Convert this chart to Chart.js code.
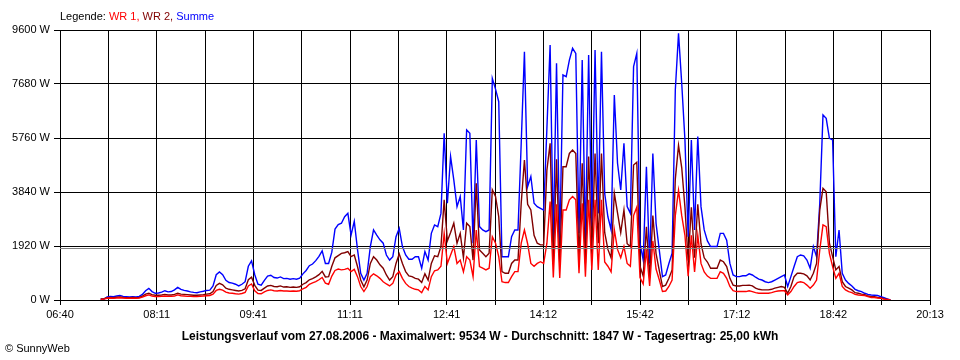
<!DOCTYPE html>
<html>
<head>
<meta charset="utf-8">
<script src="https://cdn.jsdelivr.net/npm/chart.js@4.4.1/dist/chart.umd.min.js"></script>
<style>
  body { margin: 0; background: #fff; }
  #wrap { position: relative; width: 960px; height: 360px; font-family: 'Liberation Sans', Arial, sans-serif; font-size: 11px; color: #000; }
  #legend { position: absolute; left: 60px; top: 10px; white-space: nowrap; }
  #title { position: absolute; left: 0; width: 960px; top: 329px; text-align: center; font-weight: bold; font-size: 12px; white-space: nowrap; }
  #copy { position: absolute; left: 5px; top: 342px; white-space: nowrap; }
</style>
</head>
<body>
<div id="wrap">
  <canvas id="chart" width="960" height="360"></canvas>
  <div id="legend">Legende: <span style="color:#ff0000">WR 1,</span> <span style="color:#800000">WR 2,</span> <span style="color:#0000ff">Summe</span></div>
  <div id="title">Leistungsverlauf vom 27.08.2006 - Maximalwert: 9534 W - Durchschnitt: 1847 W - Tagesertrag: 25,00 kWh</div>
  <div id="copy">&copy; SunnyWeb</div>
</div>
<script>
// x axis: minutes since midnight, labels every second grid line
const timeLabels = ['06:40', '08:11', '09:41', '11:11', '12:41', '14:12', '15:42', '17:12', '18:42', '20:13'];
const axisStart = 400;   // 06:40
const axisEnd = 1213;    // 20:13
const yTicks = [0, 1920, 3840, 5760, 7680, 9600];
const durchschnitt = 1847;

// samples every 3 minutes starting 07:18
const firstSample = 438;
const sampleStep = 3;

// WR 1 (W)
const wr1 = [
  20, 30, 60, 70, 60, 70, 80, 70, 60, 60, 60, 60, 70, 100, 150, 180, 140, 120, 120, 130,
  140, 130, 130, 140, 180, 150, 140, 130, 130, 120, 120, 130, 140, 150, 160, 210, 340, 380, 350, 280,
  250, 240, 220, 210, 230, 270, 500, 570, 330, 230, 220, 290, 340, 360, 330, 320, 340, 320, 320, 310,
  320, 310, 330, 400, 450, 560, 610, 650, 720, 800, 600, 560, 850, 1050, 1100, 1070, 1090, 1130, 1010, 1090,
  830, 480, 300, 480, 830, 930, 860, 770, 650, 570, 500, 590, 890, 1010, 770, 590, 480, 420, 380, 360,
  260, 480, 360, 830, 1040, 1070, 1200, 2370, 1300, 1600, 1900, 1300, 1420, 1000, 1540, 1420, 830, 2490, 1190, 1130,
  1070, 1130, 2250, 2020, 1540, 650, 620, 620, 830, 1010, 1010, 2020, 2490, 2000, 1300, 1200, 1300, 1360, 1300, 2020,
  3500, 800, 3400, 780, 3200, 3200, 3560, 3680, 3560, 950, 3440, 830, 3560, 1070, 3560, 1070, 3560, 1350, 1200, 1000,
  2500, 1800, 1500, 1900, 1300, 1200, 3000, 3300, 800, 570, 1800, 500, 2100, 1100, 720, 300, 320, 480, 710, 3000,
  3900, 3000, 2300, 850, 2300, 1000, 2300, 1300, 1000, 850, 770, 770, 770, 1010, 950, 770, 480, 330, 300, 300,
  300, 300, 330, 300, 260, 240, 240, 240, 240, 260, 300, 320, 330, 330, 180, 300, 480, 620, 650, 620,
  530, 420, 530, 710, 1780, 2670, 2610, 1660, 1190, 770, 950, 480, 360, 300, 260, 200, 180, 170, 160, 120,
  90, 90, 70, 60, 30, 20, 0
];

// WR 2 (W)
const wr2 = [
  40, 50, 80, 90, 80, 100, 110, 90, 80, 80, 90, 80, 90, 140, 210, 240, 190, 170, 170, 180,
  200, 180, 180, 200, 240, 210, 200, 190, 180, 170, 170, 180, 190, 210, 220, 300, 520, 590, 540, 420,
  380, 360, 340, 320, 340, 400, 720, 810, 520, 350, 340, 420, 500, 520, 480, 470, 500, 460, 470, 450,
  460, 450, 470, 560, 620, 720, 760, 820, 900, 1020, 820, 830, 1200, 1500, 1580, 1660, 1680, 1720, 1540, 1600,
  1190, 710, 470, 710, 1300, 1540, 1420, 1250, 1130, 890, 710, 830, 1300, 1640, 1300, 1010, 860, 830, 770, 740,
  620, 930, 710, 1300, 1570, 1540, 1900, 3560, 2100, 2400, 2730, 2020, 2370, 1500, 2730, 2610, 1420, 4150, 1780, 1660,
  1540, 1660, 3920, 3680, 2960, 1010, 950, 950, 1300, 1420, 1420, 3440, 4980, 3400, 3200, 2300, 2020, 1960, 1960, 4620,
  5570, 1300, 5000, 1250, 4740, 4740, 5210, 5330, 5210, 1420, 4860, 1300, 5100, 1780, 5210, 2020, 5210, 2400, 1800, 1500,
  3800, 3100, 2400, 3200, 2000, 1900, 4800, 4900, 1200, 850, 2600, 780, 3000, 1650, 1050, 480, 530, 770, 1070, 4300,
  5500, 4700, 3300, 1400, 3300, 1500, 3400, 2000, 1500, 1350, 1130, 1130, 1130, 1420, 1360, 1190, 770, 530, 500, 500,
  520, 520, 530, 500, 420, 380, 360, 360, 360, 380, 420, 450, 480, 450, 240, 480, 830, 950, 950, 930,
  860, 710, 950, 1300, 3200, 3970, 3850, 2020, 1540, 1070, 1190, 650, 480, 420, 360, 260, 240, 210, 190, 140,
  120, 120, 90, 70, 40, 20, 0
];

// Summe (W)
const summe = [
  25, 25, 110, 130, 120, 140, 160, 130, 120, 110, 120, 110, 130, 200, 330, 415, 300, 240, 250, 280,
  330, 290, 300, 360, 450, 380, 340, 320, 290, 270, 260, 290, 310, 340, 350, 500, 900, 1000, 900, 700,
  620, 600, 560, 500, 560, 650, 1200, 1390, 900, 560, 530, 700, 850, 880, 800, 780, 820, 760, 770, 740,
  760, 740, 780, 930, 1050, 1220, 1280, 1400, 1550, 1750, 1300, 1300, 1700, 2520, 2680, 2730, 2960, 3080, 2310, 2800,
  1800, 950, 710, 950, 1900, 2490, 2310, 2140, 2020, 1600, 1420, 1540, 2250, 2550, 1900, 1600, 1450, 1450, 1540, 1540,
  1130, 1720, 1420, 2370, 2670, 2610, 3080, 5930, 3440, 5100, 4270, 3320, 3680, 2490, 6050, 5930, 2020, 5690, 2610, 2490,
  2430, 2490, 7880, 7500, 7050, 1540, 1540, 1540, 2250, 2490, 2490, 5570, 8830, 4030, 4390, 3440, 3320, 3260, 3200, 6100,
  9070, 2130, 8420, 2020, 8000, 7940, 8530, 8950, 8770, 2370, 8530, 2020, 8710, 2610, 8890, 3080, 8830, 3790, 2960, 2490,
  7290, 4860, 3910, 5570, 3320, 3080, 8300, 8770, 2020, 1420, 4740, 1300, 5210, 2730, 1780, 830, 890, 1300, 1660, 7470,
  9480, 7700, 5690, 2250, 5690, 2490, 5810, 3320, 2490, 2100, 1900, 1900, 1900, 2370, 2370, 2130, 1300, 890, 830, 830,
  860, 860, 930, 890, 810, 740, 710, 650, 620, 650, 710, 770, 830, 890, 480, 830, 1190, 1540, 1600, 1570,
  1420, 1130, 1900, 1540, 3440, 6580, 6460, 5750, 5690, 1540, 2490, 950, 710, 590, 500, 380, 330, 300, 240, 200,
  180, 170, 160, 120, 80, 40, 0
];

const times = summe.map((_, i) => firstSample + i * sampleStep);
const toPoints = (arr) => arr.map((v, i) => ({ x: times[i], y: v }));

const tickFont = { family: "'Liberation Sans', Arial, sans-serif", size: 11 };

// gray line for the daily average
const avgLine = {
  id: 'avgLine',
  afterDatasetsDraw(chart) {
    const { ctx, chartArea } = chart;
    const y = Math.round(chart.scales.y.getPixelForValue(durchschnitt)) + 0.5;
    ctx.save();
    ctx.strokeStyle = '#808080';
    ctx.lineWidth = 1;
    ctx.beginPath();
    ctx.moveTo(chartArea.left, y);
    ctx.lineTo(chartArea.right, y);
    ctx.stroke();
    ctx.restore();
  }
};

function makeLine(label, arr, color) {
  return {
    label,
    data: toPoints(arr),
    borderColor: color,
    borderWidth: 1.4,
    pointRadius: 0,
    tension: 0,
  };
}

const ctx = document.getElementById('chart').getContext('2d');
new Chart(ctx, {
  type: 'line',
  data: {
    datasets: [
      makeLine('WR 1', wr1, '#ff0000'),
      makeLine('WR 2', wr2, '#800000'),
      makeLine('Summe', summe, '#0000ff'),
    ],
  },
  options: {
    responsive: false,
    animation: false,
    layout: { padding: { top: 30, right: 30, left: 0, bottom: 0 } },
    plugins: {
      legend: { display: false },
      tooltip: { enabled: false },
    },
    scales: {
      x: {
        type: 'linear',
        min: axisStart,
        max: axisEnd,
        z: 1,
        afterBuildTicks: (scale) => {
          const step = (axisEnd - axisStart) / 18;
          scale.ticks = Array.from({ length: 19 }, (_, k) => ({ value: axisStart + k * step }));
        },
        afterFit: (scale) => { scale.height = 60; },
        ticks: {
          autoSkip: false,
          maxRotation: 0,
          padding: 3,
          color: '#000',
          font: tickFont,
          callback: (value, index) => (index % 2 === 0 ? timeLabels[index / 2] : ''),
        },
        grid: { color: '#000', lineWidth: 1, tickLength: 5 },
        border: { color: '#000' },
      },
      y: {
        min: 0,
        max: 9600,
        z: 1,
        afterBuildTicks: (scale) => {
          scale.ticks = yTicks.map((v) => ({ value: v }));
        },
        afterFit: (scale) => { scale.width = 60; },
        ticks: {
          padding: 4,
          color: '#000',
          font: tickFont,
          callback: (value) => value + ' W',
        },
        grid: { color: '#000', lineWidth: 1, tickLength: 6 },
        border: { color: '#000' },
      },
    },
  },
  plugins: [avgLine],
});
</script>
</body>
</html>
